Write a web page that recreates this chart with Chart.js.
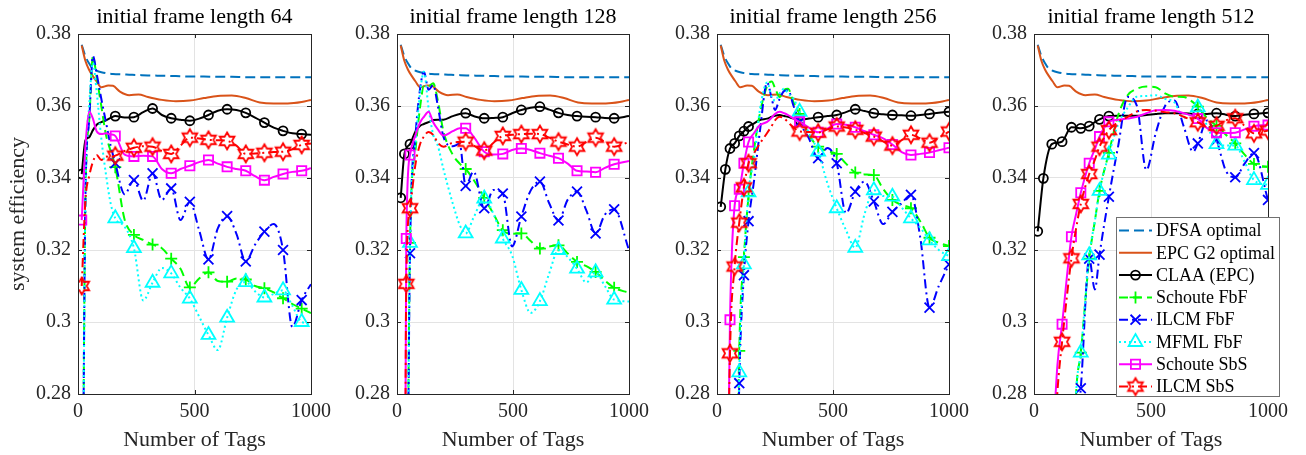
<!DOCTYPE html>
<html>
<head>
<meta charset="utf-8">
<script src="https://cdn.jsdelivr.net/npm/chart.js@4.4.1/dist/chart.umd.min.js"></script>
<style>
  body { margin: 0; background: #fff; }
  #figura { position: relative; width: 1306px; height: 455px; overflow: hidden; }
  #figura canvas { position: absolute; top: 0; }
</style>
</head>
<body>
<div id="figura">
  <canvas id="painel64" width="337" height="455" style="left:0px"></canvas>
  <canvas id="painel128" width="318" height="455" style="left:337px"></canvas>
  <canvas id="painel256" width="318" height="455" style="left:657px"></canvas>
  <canvas id="painel512" width="320" height="455" style="left:974px"></canvas>
</div>
<script>
// curvas teoricas (iguais nos 4 paineis)
var tagsComum = [16, 32, 48, 64, 80, 100, 130, 150, 180, 220, 260, 300, 360, 420, 480, 540, 600, 660, 720, 780, 840, 900, 960, 1000];
var dfsaOtimo = [0.3770, 0.3738, 0.3718, 0.3703, 0.3698, 0.3694, 0.3690, 0.3689, 0.3688, 0.3687, 0.3686, 0.3685, 0.3684, 0.3683, 0.3682, 0.3682, 0.3681, 0.3681, 0.3680, 0.3680, 0.3680, 0.3680, 0.3680, 0.3680];
var epcOtimo = [0.3768, 0.3725, 0.3700, 0.3683, 0.3668, 0.3652, 0.3657, 0.3656, 0.3640, 0.3630, 0.3632, 0.3625, 0.3617, 0.3613, 0.3615, 0.3622, 0.3628, 0.3629, 0.3622, 0.3610, 0.3607, 0.3607, 0.3611, 0.3617];

var nomesSeries = ["DFSA optimal", "EPC G2 optimal", "CLAA (EPC)", "Schoute FbF", "ILCM FbF", "MFML FbF", "Schoute SbS", "ILCM SbS"];
var ticksX = [0, 500, 1000];
var ticksY = [0.28, 0.30, 0.32, 0.34, 0.36, 0.38];

// frame inicial 64
var tags64 = [16, 32, 48, 64, 80, 100, 120, 140, 160, 200, 240, 280, 320, 360, 400, 440, 480, 520, 560, 600, 640, 680, 720, 760, 800, 840, 880, 920, 960, 1000];
var marcas64 = [16, 160, 240, 320, 400, 480, 560, 640, 720, 800, 880, 960];
var claa64 = [0.3411, 0.3505, 0.3513, 0.3533, 0.3548, 0.3555, 0.3560, 0.3567, 0.3572, 0.3568, 0.3569, 0.3583, 0.3593, 0.3575, 0.3566, 0.3562, 0.3559, 0.3565, 0.3575, 0.3587, 0.3591, 0.3589, 0.3581, 0.3568, 0.3554, 0.3540, 0.3531, 0.3524, 0.3522, 0.3520];
var schouteFbf64 = [0.20, 0.335, 0.356, 0.3737, 0.368, 0.360, 0.352, 0.3475, 0.343, 0.3285, 0.3242, 0.3228, 0.3215, 0.3205, 0.3176, 0.3148, 0.3096, 0.3121, 0.3138, 0.3114, 0.3112, 0.3121, 0.3118, 0.3100, 0.3094, 0.3082, 0.3066, 0.3050, 0.3037, 0.3025];
var ilcmFbf64 = [0.20, 0.335, 0.356, 0.3739, 0.369, 0.362, 0.3555, 0.349, 0.3441, 0.3355, 0.3394, 0.3337, 0.3413, 0.3339, 0.3371, 0.3283, 0.3334, 0.3255, 0.3174, 0.3260, 0.3294, 0.3245, 0.3168, 0.3215, 0.3251, 0.3272, 0.3200, 0.2986, 0.3061, 0.3105];
var mfmlFbf64 = [0.20, 0.335, 0.360, 0.372, 0.364, 0.351, 0.341, 0.333, 0.3288, 0.3265, 0.3205, 0.3060, 0.3109, 0.3150, 0.3135, 0.3095, 0.3065, 0.3015, 0.2964, 0.2922, 0.3012, 0.3090, 0.3111, 0.3085, 0.3068, 0.3078, 0.3088, 0.3045, 0.3000, 0.2996];
var schouteSbs64 = [0.3283, 0.3490, 0.3585, 0.3565, 0.3530, 0.3522, 0.3524, 0.3521, 0.3517, 0.3465, 0.3460, 0.3462, 0.3460, 0.3425, 0.3413, 0.3425, 0.3434, 0.3444, 0.3450, 0.3440, 0.3431, 0.3425, 0.3420, 0.3405, 0.3394, 0.3403, 0.3411, 0.3417, 0.3420, 0.3427];
var ilcmSbs64 = [0.3100, 0.3340, 0.3405, 0.3445, 0.3464, 0.3450, 0.3460, 0.3458, 0.3462, 0.3475, 0.3484, 0.3488, 0.3487, 0.3475, 0.3467, 0.3490, 0.3512, 0.3510, 0.3506, 0.3505, 0.3503, 0.3490, 0.3467, 0.3468, 0.3470, 0.3472, 0.3473, 0.3480, 0.3492, 0.3496];

// frame inicial 128
var tags128 = [16, 32, 40, 56, 80, 100, 116, 136, 156, 176, 200, 240, 270, 296, 330, 376, 416, 456, 496, 536, 576, 616, 656, 696, 736, 776, 816, 856, 896, 936, 1000];
var marcas128 = [16, 32, 40, 56, 296, 376, 456, 536, 616, 696, 776, 856, 936];
var claa128 = [0.3345, 0.3467, null, 0.3494, 0.3530, 0.3545, 0.3550, 0.3555, 0.3561, 0.3562, 0.3562, 0.3572, 0.3578, 0.3580, 0.3572, 0.3566, 0.3567, 0.3569, 0.3580, 0.3589, 0.3595, 0.3598, 0.3590, 0.3581, 0.3575, 0.3572, 0.3570, 0.3569, 0.3567, 0.3566, 0.3572];
var schouteFbf128 = [null, null, 0.20, 0.322, 0.348, 0.360, 0.3655, 0.3655, 0.3663, 0.3615, 0.3530, 0.3465, 0.3440, 0.3425, 0.3395, 0.3345, 0.3300, 0.3255, 0.3245, 0.3246, 0.3225, 0.3204, 0.3210, 0.3213, 0.3190, 0.3167, 0.3155, 0.3139, 0.3115, 0.3095, 0.3081];
var ilcmFbf128 = [null, null, 0.20, 0.3191, 0.352, 0.365, 0.3695, 0.3645, 0.3658, 0.3600, 0.3515, 0.3488, 0.3495, 0.3378, 0.3418, 0.3316, 0.3367, 0.3357, 0.3210, 0.3293, 0.3365, 0.3390, 0.3330, 0.3282, 0.3340, 0.3362, 0.3310, 0.3246, 0.3298, 0.3313, 0.3200];
var mfmlFbf128 = [null, null, 0.20, 0.322, 0.350, 0.364, 0.3695, 0.3595, 0.3520, 0.3490, 0.3425, 0.3330, 0.3270, 0.3246, 0.3290, 0.3343, 0.3300, 0.3232, 0.3185, 0.3089, 0.3025, 0.3058, 0.3135, 0.3200, 0.3180, 0.3148, 0.3110, 0.3138, 0.3100, 0.3062, 0.3057];
var schouteSbs128 = [null, 0.20, 0.3232, 0.3464, 0.3520, 0.3555, 0.3570, 0.3584, 0.3555, 0.3535, 0.3518, 0.3530, 0.3538, 0.3538, 0.3515, 0.3473, 0.3465, 0.3467, 0.3478, 0.3482, 0.3478, 0.3469, 0.3462, 0.3455, 0.3440, 0.3420, 0.3418, 0.3416, 0.3428, 0.3438, 0.3447];
var ilcmSbs128 = [null, 0.20, 0.3106, 0.3316, 0.3440, 0.3495, 0.3515, 0.3528, 0.3520, 0.3498, 0.3487, 0.3498, 0.3500, 0.3501, 0.3490, 0.3476, 0.3498, 0.3517, 0.3520, 0.3522, 0.3523, 0.3522, 0.3512, 0.3501, 0.3493, 0.3487, 0.3500, 0.3512, 0.3500, 0.3487, 0.3500];

// frame inicial 256
var tags256 = [16, 36, 56, 76, 96, 116, 136, 160, 185, 216, 236, 250, 270, 290, 306, 330, 356, 396, 436, 476, 516, 556, 596, 636, 676, 716, 756, 796, 836, 876, 916, 956, 1000];
var marcas256 = [16, 36, 56, 76, 96, 116, 136, 356, 436, 516, 596, 676, 756, 836, 916, 1000];
var claa256 = [0.3320, 0.3424, 0.3482, 0.3496, 0.3517, 0.3530, 0.3543, 0.3552, 0.3561, 0.3565, 0.3570, 0.3573, 0.3575, 0.3572, 0.3570, 0.3565, 0.3562, 0.3565, 0.3569, 0.3572, 0.3575, 0.3583, 0.3591, 0.3586, 0.3580, 0.3577, 0.3575, 0.3574, 0.3573, 0.3575, 0.3578, 0.3581, 0.3584];
var schouteFbf256 = [null, null, null, 0.200, 0.292, 0.318, 0.335, 0.348, 0.358, 0.3655, 0.3668, 0.3650, 0.3625, 0.3645, 0.3648, 0.3610, 0.3578, 0.3520, 0.3487, 0.3475, 0.3467, 0.3440, 0.3415, 0.3410, 0.3408, 0.3370, 0.3339, 0.3325, 0.3316, 0.3280, 0.3234, 0.3220, 0.3211];
var ilcmFbf256 = [null, null, null, 0.200, 0.283, 0.313, 0.328, 0.3394, 0.3530, 0.3665, 0.3620, 0.3589, 0.3620, 0.3642, 0.3644, 0.3600, 0.3555, 0.3510, 0.3455, 0.3483, 0.3441, 0.3302, 0.3362, 0.3390, 0.3335, 0.3272, 0.3306, 0.3330, 0.3353, 0.3235, 0.3040, 0.3100, 0.3160];
var mfmlFbf256 = [null, null, null, 0.200, 0.286, 0.316, 0.336, 0.3455, 0.3590, 0.3665, 0.3625, 0.3615, 0.3635, 0.3648, 0.3635, 0.3620, 0.3584, 0.3525, 0.3473, 0.3385, 0.3316, 0.3255, 0.3206, 0.3300, 0.3366, 0.3350, 0.3348, 0.3318, 0.3288, 0.3262, 0.3227, 0.3200, 0.3183];
var schouteSbs256 = [null, 0.200, 0.3006, 0.3323, 0.3369, 0.3441, 0.3500, 0.3525, 0.3547, 0.3556, 0.3568, 0.3578, 0.3584, 0.3580, 0.3575, 0.3565, 0.3556, 0.3540, 0.3527, 0.3537, 0.3550, 0.3548, 0.3541, 0.3530, 0.3520, 0.3510, 0.3493, 0.3472, 0.3464, 0.3467, 0.3471, 0.3477, 0.3484];
var ilcmSbs256 = [null, 0.200, 0.2913, 0.3154, 0.3276, 0.3374, 0.3441, 0.3470, 0.3496, 0.3525, 0.3545, 0.3560, 0.3570, 0.3565, 0.3555, 0.3540, 0.3529, 0.3528, 0.3526, 0.3535, 0.3543, 0.3540, 0.3534, 0.3525, 0.3515, 0.3502, 0.3490, 0.3505, 0.3520, 0.3510, 0.3498, 0.3512, 0.3529];

// frame inicial 512
var tags512 = [16, 40, 76, 100, 120, 160, 180, 200, 236, 260, 280, 320, 360, 400, 440, 480, 520, 560, 600, 640, 680, 700, 740, 780, 820, 860, 900, 940, 1000];
var marcas512 = [16, 40, 76, 120, 160, 200, 236, 280, 320, 700, 780, 860, 940, 1000];
var claa512 = [0.3252, 0.3399, 0.3494, 0.3498, 0.3501, 0.3541, 0.3540, 0.3538, 0.3544, 0.3555, 0.3563, 0.3572, 0.3573, 0.3573, 0.3573, 0.3575, 0.3578, 0.3580, 0.3580, 0.3580, 0.3578, 0.3578, 0.3578, 0.3580, 0.3576, 0.3572, 0.3576, 0.3578, 0.3581];
var schouteFbf512 = [null, null, null, null, null, 0.240, 0.280, 0.2915, 0.3176, 0.3280, 0.3364, 0.3470, 0.3575, 0.3630, 0.3648, 0.3654, 0.3652, 0.3635, 0.3626, 0.3625, 0.3610, 0.3598, 0.3566, 0.3545, 0.3520, 0.3496, 0.3465, 0.3439, 0.3431];
var ilcmFbf512 = [null, null, null, null, null, 0.240, 0.270, 0.2816, 0.3176, 0.3090, 0.3187, 0.3348, 0.3490, 0.3625, 0.3600, 0.3422, 0.3524, 0.3600, 0.3615, 0.3543, 0.3473, 0.3496, 0.3560, 0.3506, 0.3420, 0.3402, 0.3440, 0.3469, 0.3339];
var mfmlFbf512 = [null, null, null, null, null, 0.240, 0.280, 0.2915, 0.3185, 0.3280, 0.3364, 0.3465, 0.3550, 0.3595, 0.3626, 0.3628, 0.3630, 0.3620, 0.3610, 0.3566, 0.3585, 0.3596, 0.3545, 0.3494, 0.3490, 0.3490, 0.3445, 0.3394, 0.3381];
var schouteSbs512 = [null, null, 0.260, 0.288, 0.2994, 0.3237, 0.3300, 0.3359, 0.3441, 0.3480, 0.3515, 0.3556, 0.3562, 0.3565, 0.3570, 0.3580, 0.3588, 0.3589, 0.3587, 0.3580, 0.3572, 0.3565, 0.3538, 0.3526, 0.3525, 0.3526, 0.3535, 0.3544, 0.3547];
var ilcmSbs512 = [null, null, 0.250, 0.2805, 0.2945, 0.3177, 0.3260, 0.3328, 0.3411, 0.3450, 0.3487, 0.3533, 0.3555, 0.3570, 0.3585, 0.3589, 0.3587, 0.3583, 0.3580, 0.3570, 0.3559, 0.3555, 0.3542, 0.3545, 0.3560, 0.3566, 0.3545, 0.3524, 0.3532];

var fonte = "'Liberation Serif', 'Times New Roman', serif";
Chart.defaults.font.family = fonte;
Chart.defaults.font.size = 20;
Chart.defaults.color = "#262626";

function desenharHexagrama() {
  var c = document.createElement("canvas");
  c.width = 22;
  c.height = 22;
  var g = c.getContext("2d");
  g.strokeStyle = "#ff0000";
  g.lineWidth = 1.8;
  g.beginPath();
  for (var k = 0; k < 12; k++) {
    var r = k % 2 == 0 ? 8.5 : 8.5 / Math.sqrt(3);
    var ang = -Math.PI / 2 + k * Math.PI / 6;
    var px = 11 + r * Math.cos(ang);
    var py = 11 + r * Math.sin(ang);
    if (k == 0) g.moveTo(px, py); else g.lineTo(px, py);
  }
  g.closePath();
  g.stroke();
  return c;
}

var hexagrama = desenharHexagrama();

var estiloSeries = [
  { cor: "#0072BD", traco: [10, 5], ponto: null, raio: 0 },
  { cor: "#D95319", traco: [], ponto: null, raio: 0 },
  { cor: "#000000", traco: [], ponto: "circle", raio: 4.5 },
  { cor: "#00FF00", traco: [9, 5], ponto: "cross", raio: 6 },
  { cor: "#0000FF", traco: [9, 4, 2, 4], ponto: "crossRot", raio: 7 },
  { cor: "#00FFFF", traco: [2, 3], ponto: "triangle", raio: 8 },
  { cor: "#FF00FF", traco: [], ponto: "rect", raio: 6.5 },
  { cor: "#FF0000", traco: [9, 4, 2, 4], ponto: hexagrama, raio: 9 }
];

function montarPontos(tags, valores) {
  var pontos = [];
  for (var i = 0; i < tags.length; i++) {
    if (valores[i] !== null) pontos.push({ x: tags[i], y: valores[i] });
  }
  return pontos;
}

function criarSerie(i, pontos, marcas) {
  var e = estiloSeries[i];
  return {
    label: nomesSeries[i],
    data: pontos,
    order: 7 - i,
    borderColor: e.cor,
    borderWidth: 2,
    borderDash: e.traco,
    cubicInterpolationMode: "monotone",
    fill: false,
    pointStyle: e.ponto || "circle",
    pointRadius: function (c) {
      if (!e.ponto || !c.raw) return 0;
      return marcas.indexOf(c.raw.x) >= 0 ? e.raio : 0;
    },
    pointHoverRadius: 0,
    pointBorderColor: e.cor,
    pointBackgroundColor: "rgba(0,0,0,0)",
    pointBorderWidth: 1.8
  };
}

function desenharLegenda(chart) {
  var ctx = chart.ctx;
  var area = chart.chartArea;
  var esq = area.left + 82;
  var dir = area.right + 12;
  var topo = area.top + 183;
  var base = area.bottom + 3;
  ctx.save();
  ctx.fillStyle = "#ffffff";
  ctx.fillRect(esq, topo, dir - esq, base - topo);
  ctx.strokeStyle = "#707070";
  ctx.lineWidth = 1;
  ctx.setLineDash([]);
  ctx.strokeRect(esq + 0.5, topo + 0.5, dir - esq - 1, base - topo - 1);
  for (var i = 0; i < nomesSeries.length; i++) {
    var e = estiloSeries[i];
    var y = topo + 13.5 + i * 22.3;
    ctx.strokeStyle = e.cor;
    ctx.lineWidth = 2;
    ctx.setLineDash(e.traco);
    ctx.beginPath();
    ctx.moveTo(esq + 3, y);
    ctx.lineTo(esq + 36, y);
    ctx.stroke();
    ctx.setLineDash([]);
    if (e.ponto) {
      ctx.lineWidth = 1.8;
      ctx.fillStyle = "rgba(0,0,0,0)";
      Chart.helpers.drawPoint(ctx, { pointStyle: e.ponto, radius: e.raio, borderWidth: 1.8, rotation: 0 }, esq + 19.5, y);
    }
    ctx.fillStyle = "#000000";
    ctx.font = "18px " + fonte;
    ctx.textAlign = "left";
    ctx.textBaseline = "middle";
    ctx.fillText(nomesSeries[i], esq + 40, y + 1);
  }
  ctx.restore();
}

var pluginMoldura = {
  id: "moldura",
  afterDraw: function (chart, args, op) {
    var ctx = chart.ctx;
    var a = chart.chartArea;
    var sx = chart.scales.x;
    var sy = chart.scales.y;
    ctx.save();
    ctx.strokeStyle = "#262626";
    ctx.lineWidth = 1;
    ctx.beginPath();
    for (var i = 0; i < ticksY.length; i++) {
      var y = Math.round(sy.getPixelForValue(ticksY[i])) + 0.5;
      ctx.moveTo(a.left, y); ctx.lineTo(a.left + 4, y);
      ctx.moveTo(a.right, y); ctx.lineTo(a.right - 4, y);
    }
    for (var j = 0; j < ticksX.length; j++) {
      var x = Math.round(sx.getPixelForValue(ticksX[j])) + 0.5;
      ctx.moveTo(x, a.top); ctx.lineTo(x, a.top + 4);
      ctx.moveTo(x, a.bottom); ctx.lineTo(x, a.bottom - 4);
    }
    ctx.stroke();
    ctx.strokeRect(Math.round(a.left) + 0.5, Math.round(a.top) + 0.5, Math.round(a.right - a.left), Math.round(a.bottom - a.top));

    ctx.fillStyle = "#000000";
    ctx.font = "22px " + fonte;
    ctx.textAlign = "center";
    ctx.textBaseline = "middle";
    ctx.fillText(op.titulo, (a.left + a.right) / 2, 17);
    ctx.restore();

    if (op.legenda) desenharLegenda(chart);
  }
};

function criarPainel(idCanvas, titulo, tags, marcas, valores, larguraY, comLegenda) {
  var series = [
    criarSerie(0, montarPontos(tagsComum, dfsaOtimo), marcas),
    criarSerie(1, montarPontos(tagsComum, epcOtimo), marcas)
  ];
  for (var i = 0; i < valores.length; i++) {
    series.push(criarSerie(i + 2, montarPontos(tags, valores[i]), marcas));
  }

  var contexto = document.getElementById(idCanvas).getContext("2d");
  new Chart(contexto, {
    type: "line",
    data: { datasets: series },
    plugins: [pluginMoldura],
    options: {
      responsive: false,
      animation: false,
      events: [],
      layout: { padding: { top: 34, right: 24, left: 0, bottom: 0 } },
      plugins: {
        legend: { display: false },
        tooltip: { enabled: false },
        moldura: { titulo: titulo, legenda: comLegenda }
      },
      scales: {
        x: {
          type: "linear",
          min: 0,
          max: 1000,
          afterBuildTicks: function (s) { s.ticks = ticksX.map(function (v) { return { value: v }; }); },
          afterFit: function (s) { s.height = 61; },
          ticks: {
            padding: 6,
            color: "#262626",
            maxRotation: 0,
            font: { family: fonte, size: 20 },
            callback: function (v) { return String(v); }
          },
          grid: { color: "#e3e3e3", drawTicks: false },
          border: { display: false },
          title: { display: true, text: "Number of Tags", font: { family: fonte, size: 22 }, color: "#262626", padding: { top: 0, bottom: 2 } }
        },
        y: {
          min: 0.28,
          max: 0.38,
          afterBuildTicks: function (s) { s.ticks = ticksY.map(function (v) { return { value: v }; }); },
          afterFit: function (s) { s.width = larguraY; },
          ticks: {
            padding: 7,
            color: "#262626",
            font: { family: fonte, size: 20 },
            callback: function (v) { return String(parseFloat(v.toFixed(2))); }
          },
          grid: { color: "#e3e3e3", drawTicks: false },
          border: { display: false },
          title: { display: larguraY > 70, text: "system efficiency", font: { family: fonte, size: 22 }, color: "#262626", padding: { top: 5, bottom: 0 } }
        }
      }
    }
  });
}

criarPainel("painel64", "initial frame length 64", tags64, marcas64,
  [claa64, schouteFbf64, ilcmFbf64, mfmlFbf64, schouteSbs64, ilcmSbs64], 78, false);
criarPainel("painel128", "initial frame length 128", tags128, marcas128,
  [claa128, schouteFbf128, ilcmFbf128, mfmlFbf128, schouteSbs128, ilcmSbs128], 60, false);
criarPainel("painel256", "initial frame length 256", tags256, marcas256,
  [claa256, schouteFbf256, ilcmFbf256, mfmlFbf256, schouteSbs256, ilcmSbs256], 60, false);
criarPainel("painel512", "initial frame length 512", tags512, marcas512,
  [claa512, schouteFbf512, ilcmFbf512, mfmlFbf512, schouteSbs512, ilcmSbs512], 60, true);
</script>
</body>
</html>
